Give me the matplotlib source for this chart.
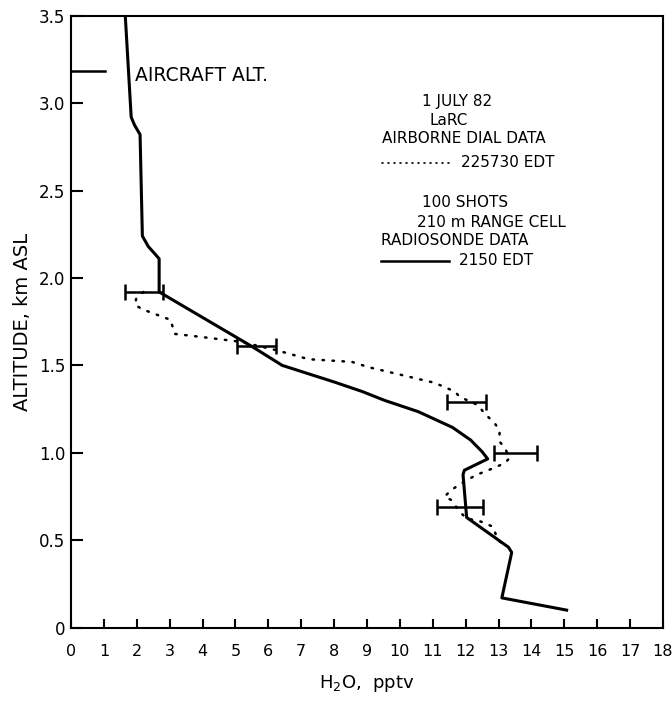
import matplotlib.pyplot as plt
import numpy as np

# =============================================================================
# H2O profile, 1 July 82 : airborne DIAL vs radiosonde
# =============================================================================

# radiosonde data (solid line), H2O (pptv) and altitude (km ASL)
sonde_h2o = [1.65, 1.83, 1.93, 2.10, 2.17, 2.35, 2.68, 2.68, 5.51, 6.42, 8.0, 8.86,
             9.53, 10.56, 11.6, 12.15, 12.5, 12.67, 11.96, 11.92, 12.03, 13.3,
             13.4, 13.1, 15.07]
sonde_alt = [3.50, 2.92, 2.875, 2.82, 2.24, 2.18, 2.11, 1.92, 1.607, 1.50, 1.405, 1.35,
             1.30, 1.235, 1.145, 1.073, 1.006, 0.965, 0.90, 0.875, 0.63, 0.46,
             0.43, 0.17, 0.10]

# airborne DIAL data (dotted line)
dial_h2o = [2.20, 1.98, 1.95, 2.18, 3.03, 3.15, 3.85, 5.15, 6.22, 7.23, 8.54, 9.04,
            10.05, 11.06, 11.67, 11.82, 12.37, 12.57, 12.88, 13.03, 13.03, 13.2,
            13.33, 13.18, 12.83, 12.32, 11.87, 11.56, 11.36, 11.56, 11.82, 12.02,
            12.47, 12.83, 12.98, 13.2]
dial_alt = [1.92, 1.88, 1.845, 1.82, 1.76, 1.68, 1.665, 1.635, 1.588, 1.535, 1.52, 1.49,
            1.445, 1.40, 1.35, 1.32, 1.273, 1.226, 1.169, 1.13, 1.064, 1.026,
            0.968, 0.94, 0.911, 0.873, 0.825, 0.787, 0.749, 0.73, 0.663, 0.625,
            0.606, 0.577, 0.50, 0.47]

# error bars on the DIAL profile
err_h2o = [2.22, 5.65, 12.03, 13.52, 11.83]
err_alt = [1.918, 1.613, 1.292, 1.0, 0.69]
err_half = [0.58, 0.59, 0.59, 0.655, 0.69]

aircraft_alt = 3.186

x_ticks = np.arange(0, 19)
y_ticks = [0, 0.5, 1.0, 1.5, 2.0, 2.5, 3.0, 3.5]
y_labels = ['0', '0.5', '1.0', '1.5', '2.0', '2.5', '3.0', '3.5']

fig = plt.figure(figsize=(6.72, 7.02), dpi=100)
ax = fig.add_axes([71/672, 1 - 627.6/702, 592/672, 611.9/702])

# profiles
ax.plot(sonde_h2o, sonde_alt, color='black', lw=2.2, solid_joinstyle='round')
ax.plot(dial_h2o, dial_alt, color='black', lw=1.8, linestyle=(0, (0.6, 3.4)),
        dash_capstyle='round')
ax.errorbar(err_h2o, err_alt, xerr=err_half, fmt='none', ecolor='black',
            elinewidth=1.8, capsize=5.5, capthick=1.8)

# aircraft altitude marker
ax.plot([0, 1.03], [aircraft_alt, aircraft_alt], color='black', lw=1.8)
ax.text(1.95, 3.157, 'AIRCRAFT ALT.', fontsize=13.5, va='center', ha='left')

# legend block written as plain text
fs = 11
ax.text(10.68, 3.009, '1 JULY 82', fontsize=fs, va='center')
ax.text(10.89, 2.90, 'LaRC', fontsize=fs, va='center')
ax.text(9.47, 2.795, 'AIRBORNE DIAL DATA', fontsize=fs, va='center')
ax.plot([9.47, 11.55], [2.658, 2.658], color='black', lw=1.2,
        linestyle=(0, (0.6, 3.0)), dash_capstyle='round')
ax.text(11.86, 2.658, '225730 EDT', fontsize=fs, va='center')
ax.text(10.68, 2.429, '100 SHOTS', fontsize=fs, va='center')
ax.text(10.53, 2.315, '210 m RANGE CELL', fontsize=fs, va='center')
ax.text(9.44, 2.212, 'RADIOSONDE DATA', fontsize=fs, va='center')
ax.plot([9.44, 11.49], [2.097, 2.097], color='black', lw=1.8)
ax.text(11.8, 2.097, '2150 EDT', fontsize=fs, va='center')

# axes
ax.set_xlim(0, 18)
ax.set_ylim(0, 3.5)
ax.set_xticks(x_ticks)
ax.set_xticklabels([str(v) for v in x_ticks])
ax.set_yticks(y_ticks)
ax.set_yticklabels(y_labels)
ax.tick_params(axis='both', direction='in', width=1.5, labelsize=12)
ax.tick_params(axis='x', pad=12, length=6.5, labelsize=11.5)
ax.tick_params(axis='y', pad=4, length=8.5)
for s in ax.spines.values():
    s.set_linewidth(1.5)

ax.set_xlabel(r'H$_2$O,  pptv', fontsize=13)
ax.set_ylabel('ALTITUDE, km ASL', fontsize=14)
ax.xaxis.set_label_coords(0.5, -0.075)
ax.yaxis.set_label_coords(-0.066, 0.5)

plt.savefig('out.png', dpi=100)
